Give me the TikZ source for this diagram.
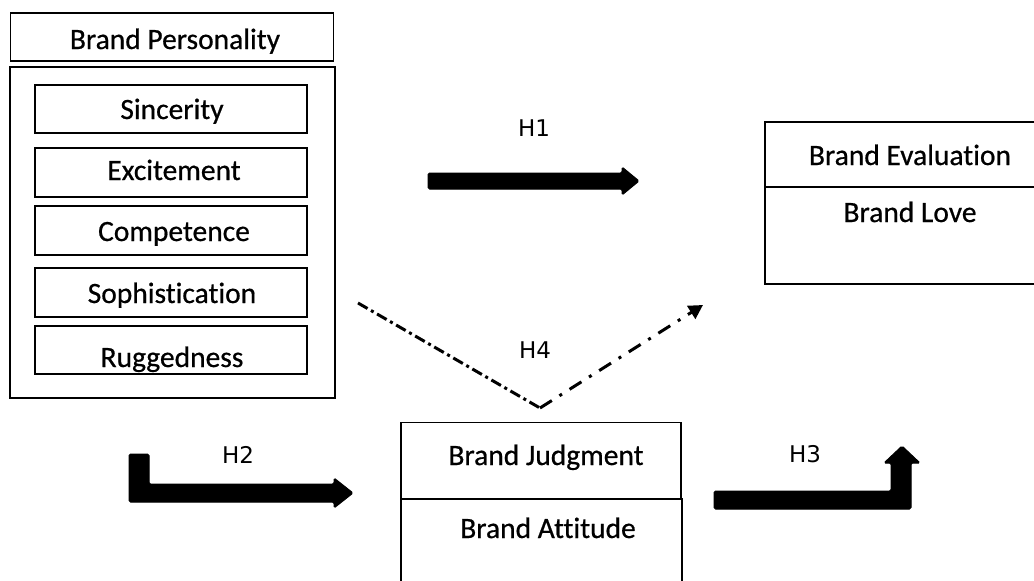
\documentclass[tikz,border=0pt]{standalone}
\usepackage{fontspec}
\setmainfont{Carlito}[Ligatures=CommonOff, FakeBold=0.6, BoldFont=Carlito]
\newfontfamily\hfont{DejaVu Sans}
\usetikzlibrary{arrows.meta}
\tikzset{
  frame/.style={draw, line width=1.6, inner sep=0, outer sep=0},
  lbl/.style={anchor=base, inner sep=0, font=\bfseries\fontsize{29.5}{32}\selectfont},
  hlbl/.style={anchor=base, inner sep=0, font=\hfont\fontsize{23}{26}\selectfont},
  blockarrow/.style={fill=black, draw=black, line width=1, rounded corners=1.5},
  dashdot/.style={line width=3}
}
\begin{document}
\begin{tikzpicture}[x=1pt,y=-1pt]
\useasboundingbox (0,0) rectangle (1034,581);
\clip (0,0) rectangle (1034,581);
\fill[white] (0,0) rectangle (1034,581);
% Brand Personality
\node[frame, minimum width=323, minimum height=48] (bp) at (172,37) {};
\node[frame, minimum width=325, minimum height=331] (bpo) at (172.5,232.5) {};
\node[frame, minimum width=272, minimum height=48] (sinc) at (171,109) {};
\node[frame, minimum width=272, minimum height=49] (exci) at (171,172.5) {};
\node[frame, minimum width=272, minimum height=49] (comp) at (171,230.5) {};
\node[frame, minimum width=272, minimum height=49] (soph) at (171,292.5) {};
\node[frame, minimum width=272, minimum height=48] (rugg) at (171,350) {};
\node[lbl] (tbp) at (175,49) {Brand Personality};
\node[lbl] (tsinc) at (172,119) {Sincerity};
\node[lbl] (texci) at (174,180) {Excitement};
\node[lbl] (tcomp) at (174,241) {Competence};
\node[lbl] (tsoph) at (172,303) {Sophistication};
\node[lbl] (trugg) at (172,367) {Ruggedness};
% Brand Evaluation
\node[frame, minimum width=280, minimum height=65] (be) at (905,154.5) {};
\node[frame, minimum width=280, minimum height=97] (bl) at (905,235.5) {};
\node[lbl] (tbe) at (910,165) {Brand Evaluation};
\node[lbl] (tbl) at (910,222) {Brand Love};
% Brand Judgment
\node[frame, minimum width=280, minimum height=77] (bj) at (541,461) {};
\node[frame, minimum width=281, minimum height=95] (ba) at (541.5,546.5) {};
\node[lbl] (tbj) at (546,465) {Brand Judgment};
\node[lbl] (tba) at (548,538) {Brand Attitude};
% Labels
\node[hlbl] (h1) at (534,136) {H1};
\node[hlbl] (h2) at (238,463) {H2};
\node[hlbl] (h3) at (805,462) {H3};
\node[hlbl] (h4) at (535,358) {H4};
% H1 arrow
\fill[blockarrow] (428,173) -- (622,173) -- (622,167) -- (639,181) -- (622,195) -- (622,189) -- (428,189) -- cycle;
% H2 arrow
\fill[blockarrow] (129,454) -- (149,454) -- (149,484) -- (334,484) -- (334,478) -- (353,493) -- (334,508) -- (334,502) -- (129,502) -- cycle;
% H3 arrow
\fill[blockarrow] (714,491) -- (891,491) -- (891,463) -- (884,463) -- (902,446) -- (920,463) -- (911,463) -- (911,509) -- (714,509) -- cycle;
% H4 dash-dot path
\coordinate (h4a) at (358,303);
\coordinate (h4v) at (540,408);
\coordinate (h4b) at (703,305);
\draw[dashdot, dash pattern=on 11 off 4 on 3 off 4] (h4a) -- (h4v);
\draw[dashdot, dash pattern=on 14 off 9 on 3 off 9, -{Triangle[length=14,width=15]}] (h4v) -- (h4b);
\end{tikzpicture}
\end{document}
